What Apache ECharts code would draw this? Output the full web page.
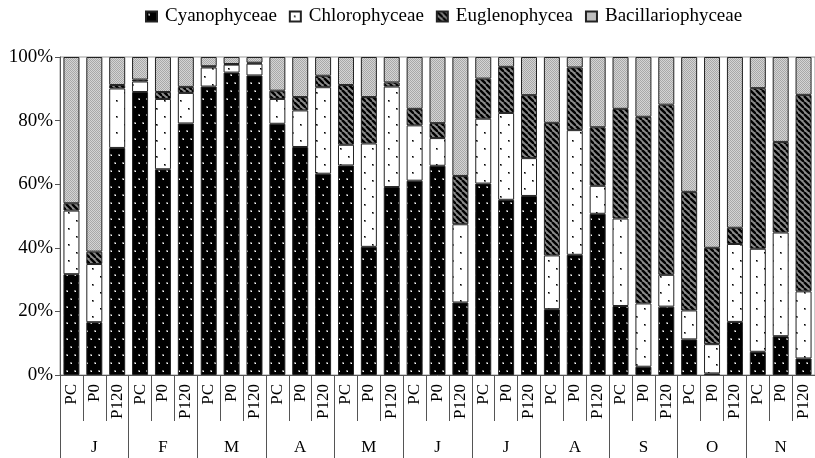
<!DOCTYPE html>
<html>
<head>
<meta charset="utf-8">
<script src="https://cdn.jsdelivr.net/npm/echarts@6/dist/echarts.min.js"></script>
<style>
html,body{margin:0;padding:0;background:#fff;}
#chart{width:815px;height:458px;}
</style>
</head>
<body>
<div id="chart"></div>
<script>
// ---- data ----
const categories = ['PC','P0','P120','PC','P0','P120','PC','P0','P120','PC','P0','P120',
  'PC','P0','P120','PC','P0','P120','PC','P0','P120','PC','P0','P120',
  'PC','P0','P120','PC','P0','P120','PC','P0','P120'];
const months = ['J','F','M','A','M','J','J','A','S','O','N'];
const seriesNames = ['Cyanophyceae','Chlorophyceae','Euglenophycea','Bacillariophyceae'];
const cyano = [31.7,16.6,71.4, 89.0,64.7,79.1, 90.7,95.1,94.2, 79.0,71.7,63.3, 65.9,40.3,59.1, 61.1,65.8,22.8, 60.2,55.1,56.3, 20.7,37.8,50.7, 21.7,2.6,21.5, 11.2,0.5,16.7, 7.3,12.2,5.2];
const chloro = [20.0,18.3,18.7, 3.3,22.1,9.6, 6.0,2.5,3.7, 7.8,11.5,27.2, 6.5,32.5,31.6, 17.4,8.7,24.6, 20.4,27.3,11.9, 16.9,39.2,8.8, 27.5,19.9,10.0, 9.1,9.2,24.5, 32.4,32.6,21.1];
const eugl = [2.3,3.9,1.1, 0.6,2.2,1.9, 0.4,0.2,0.3, 2.6,4.2,3.6, 18.8,14.6,1.3, 5.2,4.7,15.2, 12.6,14.5,19.8, 41.7,19.7,18.4, 34.5,58.7,53.5, 37.3,30.3,5.1, 50.5,28.5,61.8];
const bacill = [46.0,61.2,8.8, 7.1,11.0,9.4, 2.9,2.2,1.8, 10.6,12.6,5.9, 8.8,12.6,8.0, 16.3,20.8,37.4, 6.8,3.1,12.0, 20.7,3.3,22.1, 16.3,18.8,15.0, 42.4,60.0,53.7, 9.8,26.7,11.9];
const yTicks = [0,20,40,60,80,100];

// ---- patterns ----
function tile(w,h,draw){const c=document.createElement('canvas');c.width=w;c.height=h;const g=c.getContext('2d');draw(g,w,h);return c;}
const patCyano = tile(8,16,(g,w,h)=>{g.fillStyle='#000';g.fillRect(0,0,w,h);
  g.fillStyle='#777';g.fillRect(2,2,2,2);g.fillRect(6,10,2,2);
  g.fillStyle='#fff';g.fillRect(3,3,1,1);g.fillRect(7,11,1,1);});
const patChloro = tile(16,16,(g,w,h)=>{g.fillStyle='#fff';g.fillRect(0,0,w,h);
  g.fillStyle='#777';g.fillRect(4,4,2,2);g.fillRect(12,12,2,2);
  g.fillStyle='#000';g.fillRect(4,4,1,1);g.fillRect(12,12,1,1);});
const patEugl = tile(6,6,(g,w,h)=>{g.fillStyle='#8a8a8a';g.fillRect(0,0,w,h);
  g.strokeStyle='#000';g.lineWidth=2.4;
  for(let x=-6;x<=6;x+=6){g.beginPath();g.moveTo(x,0);g.lineTo(x+6,6);g.stroke();}});
const patBac = tile(2,2,(g,w,h)=>{g.fillStyle='#d4d4d4';g.fillRect(0,0,w,h);
  g.fillStyle='#a8a8a8';g.fillRect(0,0,1,1);g.fillRect(1,1,1,1);});
const pats = [patCyano,patChloro,patEugl,patBac];
const values = [cyano,chloro,eugl,bacill];

const FONT = '"Liberation Serif","Times New Roman",serif';
const chart = echarts.init(document.getElementById('chart'), null, {renderer:'canvas'});
chart.setOption({
  animation:false,
  backgroundColor:'#fff',
  textStyle:{fontFamily:FONT,color:'#000'},
  legend:{
    top:2,left:140,itemWidth:11,itemHeight:10,itemGap:12,icon:'rect',
    textStyle:{fontFamily:FONT,fontSize:19,color:'#000',padding:[0,0,0,3]},
    data:seriesNames
  },
  grid:{left:60,right:-1,top:57,bottom:83,show:true,borderColor:'#999',borderWidth:1,containLabel:false},
  xAxis:[{
    type:'category',data:categories,position:'bottom',
    axisLine:{show:true,lineStyle:{color:'#555',width:1}},
    axisTick:{show:true,interval:0,length:46,lineStyle:{color:'#555'}},
    axisLabel:{interval:0,rotate:90,margin:9,fontFamily:FONT,fontSize:17,color:'#000'}
  },{
    type:'category',data:months,position:'bottom',offset:0,
    axisLine:{show:false},
    axisTick:{show:true,interval:0,length:84,lineStyle:{color:'#555'}},
    axisLabel:{interval:0,margin:64,fontFamily:FONT,fontSize:17,color:'#000'}
  }],
  yAxis:{
    type:'value',min:yTicks[0],max:yTicks[yTicks.length-1],interval:20,
    axisLine:{show:true,lineStyle:{color:'#555'}},
    axisTick:{show:true,length:5,lineStyle:{color:'#555'}},
    splitLine:{show:false},
    axisLabel:{formatter:'{value}%',fontFamily:FONT,fontSize:19,color:'#000',margin:7}
  },
  series: seriesNames.map((n,i)=>({
    name:n,type:'bar',stack:'total',xAxisIndex:0,barWidth:16,
    data:values[i],
    itemStyle:{color:{image:pats[i],repeat:'repeat'},borderColor:'#222',borderWidth:1},
    emphasis:{disabled:true}
  }))
});
</script>
</body>
</html>
